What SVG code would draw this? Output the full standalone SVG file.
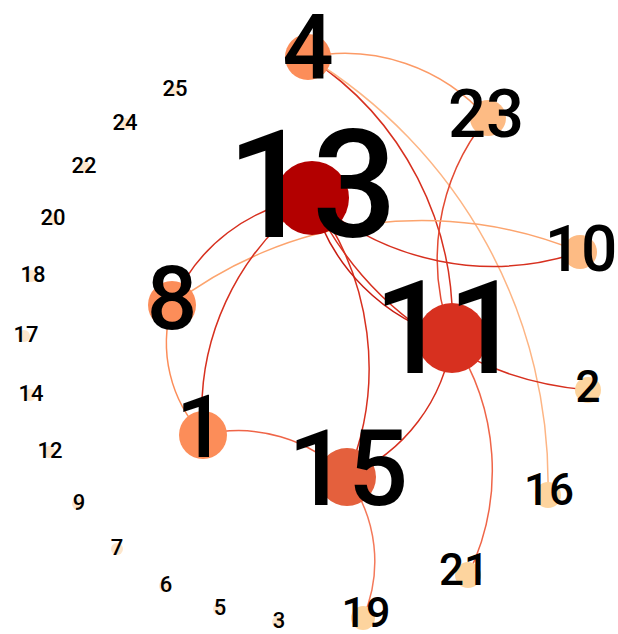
<svg xmlns="http://www.w3.org/2000/svg" width="618" height="634" viewBox="0 0 618 634">
<style>
text{font-family:Roboto,"Liberation Sans",sans-serif;font-weight:500;fill:#000;text-anchor:middle}
.l{fill:none;stroke-width:1.5}
.s text{font-size:22px}
.z{fill:#fde6cc}
</style>
<rect width="618" height="634" fill="#fff"/>
<g id="links">
<path class="l" stroke="#fc9a66" d="M308,57 A189.1,189.1 0 0 1 487,118"/>
<path class="l" stroke="#d7301f" d="M308,57 A315.8,315.8 0 0 1 452,338"/>
<path class="l" stroke="#fdb584" d="M308,57 A499.4,499.4 0 0 1 548,495"/>
<path class="l" stroke="#e34a33" d="M452,338 A222.8,222.8 0 0 1 487,118"/>
<path class="l" stroke="#fca46e" d="M172,305 A411.4,411.4 0 0 1 580,252"/>
<path class="l" stroke="#d7301f" d="M580,252 A273.4,273.4 0 0 1 312,198"/>
<path class="l" stroke="#d7301f" d="M172,305 A176.2,176.2 0 0 1 312,198"/>
<path class="l" stroke="#d7301f" d="M203,435 A260.9,260.9 0 0 1 312,198"/>
<path class="l" stroke="#fc8d59" d="M203,435 A133.6,133.6 0 0 1 172,305"/>
<path class="l" stroke="#ef6548" d="M203,435 A150,150 0 0 1 347,477"/>
<path class="l" stroke="#d7301f" d="M312,198 A281.2,281.2 0 0 1 347,477"/>
<path class="l" stroke="#c81d12" d="M452,338 A198,198 0 0 1 312,198"/>
<path class="l" stroke="#d7301f" d="M588,390 A336.2,336.2 0 0 1 312,198"/>
<path class="l" stroke="#d7301f" d="M452,338 A174.2,174.2 0 0 1 347,477"/>
<path class="l" stroke="#ef6548" d="M452,338 A237.5,237.5 0 0 1 468,575"/>
<path class="l" stroke="#f4795a" d="M347,477 A141.9,141.9 0 0 1 363,618"/>
</g>
<g id="small" class="s">
<g id="n25"><circle class="z" cx="174" cy="90" r="6"/><text x="175" y="96">25</text></g>
<g id="n24"><circle class="z" cx="125" cy="124" r="6"/><text x="125" y="130">24</text></g>
<g id="n22"><circle class="z" cx="84" cy="167" r="6"/><text x="84" y="173">22</text></g>
<g id="n20"><circle class="z" cx="53" cy="219" r="6"/><text x="53" y="225">20</text></g>
<g id="n18"><circle class="z" cx="31" cy="276" r="6"/><text x="33" y="282">18</text></g>
<g id="n17"><circle class="z" cx="24" cy="336" r="6"/><text x="26" y="342">17</text></g>
<g id="n14"><circle class="z" cx="30" cy="395" r="6"/><text x="31" y="401">14</text></g>
<g id="n12"><circle class="z" cx="49" cy="452" r="6"/><text x="50" y="458">12</text></g>
<g id="n9"><circle class="z" cx="78" cy="504" r="6"/><text x="79" y="510">9</text></g>
<g id="n7"><circle class="z" cx="117" cy="549" r="6"/><text x="117" y="555">7</text></g>
<g id="n6"><circle class="z" cx="165" cy="586" r="6"/><text x="166" y="592">6</text></g>
<g id="n5"><circle class="z" cx="219" cy="609" r="6"/><text x="220" y="615">5</text></g>
<g id="n3"><circle class="z" cx="278" cy="622" r="6"/><text x="279" y="628">3</text></g>
</g>
<g id="n4"><circle cx="308" cy="57" r="23" fill="#fc8d59"/><text x="308" y="79" font-size="90">4</text></g>
<g id="n23"><circle cx="488" cy="118" r="18" fill="#fdbb84"/><text x="486" y="137" font-size="67">23</text></g>
<g id="n13"><circle cx="312" cy="198" r="37" fill="#b30000"/><text x="312" y="237" font-size="150">13</text></g>
<g id="n10"><circle cx="580" cy="252" r="17" fill="#fdbb84"/><text x="581" y="271" font-size="64">10</text></g>
<g id="n8"><circle cx="172" cy="305" r="24" fill="#fc8d59"/><text x="172" y="329" font-size="89">8</text></g>
<g id="n11"><circle cx="452" cy="338" r="35" fill="#d7301f"/><text x="448" y="373" font-size="130">11</text></g>
<g id="n2"><circle cx="588" cy="390" r="13" fill="#fdd49e"/><text x="588" y="402" font-size="44">2</text></g>
<g id="n1"><circle cx="203" cy="435" r="24" fill="#fc8d59"/><text x="201" y="457" font-size="88">1</text></g>
<g id="n15"><circle cx="347" cy="477" r="29" fill="#e4603d"/><text x="348" y="505" font-size="106">15</text></g>
<g id="n16"><circle cx="548" cy="495" r="13" fill="#fdd49e"/><text x="549" y="505" font-size="44">16</text></g>
<g id="n21"><circle cx="468" cy="575" r="13" fill="#fdd49e"/><text x="464" y="585" font-size="44">21</text></g>
<g id="n19"><circle cx="363" cy="618" r="12" fill="#fdd49e"/><text x="366" y="627" font-size="43">19</text></g>
</svg>
